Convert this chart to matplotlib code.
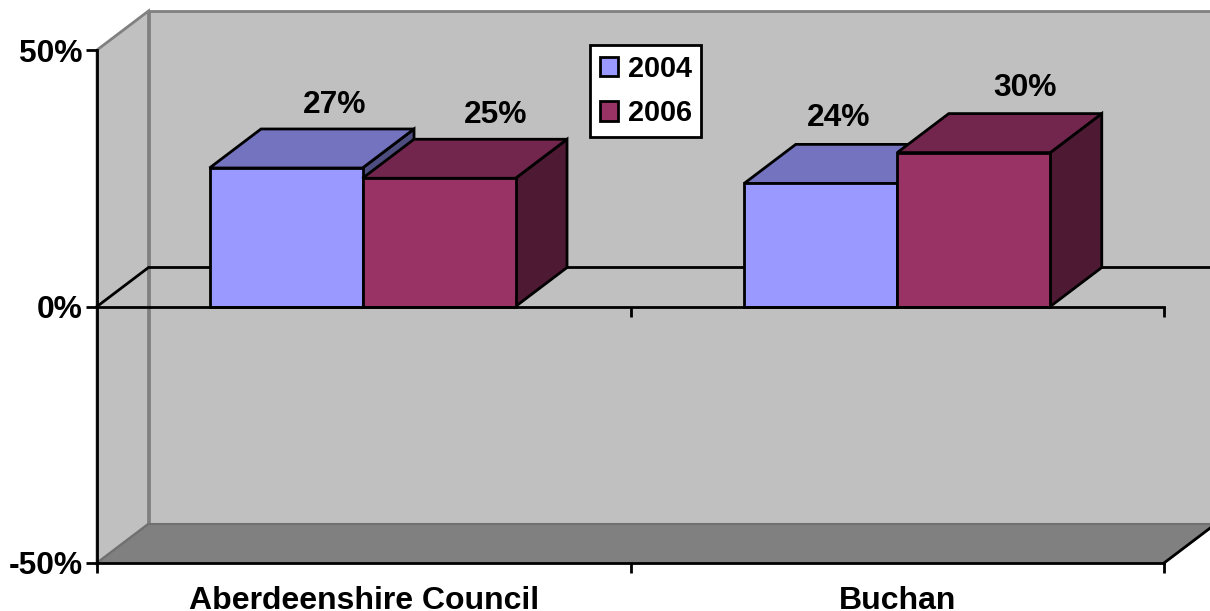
import matplotlib
matplotlib.use("Agg")
import matplotlib.pyplot as plt
from matplotlib.patches import Polygon, Patch

categories = ["Aberdeenshire Council", "Buchan"]
years = ["2004", "2006"]
values_2004 = [27, 24]
values_2006 = [25, 30]
y_ticks = [-50, 0, 50]

plt.rcParams["font.family"] = ["Liberation Sans", "DejaVu Sans"]
plt.rcParams["font.weight"] = "bold"

W, H = 1210, 611
fig = plt.figure(figsize=(W / 100, H / 100), dpi=100, facecolor="white")
ax = fig.add_axes([97 / W, 1 - 563 / H, (1164 - 97) / W, (563 - 50) / H])
ax.set_xlim(0, 2)
ax.set_ylim(-50, 50)
ax.patch.set_visible(False)

# oblique depth in data units
DX = 51.5 / 533.5
DY = 39 / 5.13
LW = 2.0
WALL = "#C0C0C0"
FLOOR = "#808080"
EDGE_GREY = "#808080"


def poly(pts, fc, ec="black", lw=LW, z=2):
    ax.add_patch(Polygon(pts, closed=True, fc=fc, ec=ec, lw=lw, zorder=z,
                         clip_on=False, joinstyle="miter"))


# walls and floor
poly([(0, -50), (DX, -50 + DY), (DX, 50 + DY), (0, 50)], WALL, EDGE_GREY, 2, 1)
poly([(DX, -50 + DY), (2 + DX, -50 + DY), (2 + DX, 50 + DY), (DX, 50 + DY)], WALL, EDGE_GREY, 2, 1)
poly([(0, -50), (2, -50), (2 + DX, -50 + DY), (DX, -50 + DY)], FLOOR, "#707070", 1.5, 1.1)

# black right edge of the floor, zero plane outline
ax.plot([2, 2 + DX], [-50, -50 + DY], color="black", lw=LW, clip_on=False, zorder=1.5)
ax.plot([0, DX, 2 + DX], [0, DY, DY], color="black", lw=LW, clip_on=False, zorder=1.5,
        solid_joinstyle="miter")
ax.plot([0, 2], [0, 0], color="black", lw=LW, clip_on=False, zorder=6)
tick_h = 10 / 5.13
ax.vlines([1, 2], -tick_h, 0, color="black", lw=LW, clip_on=False, zorder=6)

# bars
group_centers = [0.4977, 1.5]
bar_w = 153 / 533.5
series = [
    (values_2004, -bar_w / 2, "#9999FF", "#7373BF", "#4D4D80"),
    (values_2006, bar_w / 2, "#993366", "#73264D", "#4D1933"),
]
for vals, off, front, top, side in series:
    for c, v in zip(group_centers, vals):
        x0 = c + off - bar_w / 2
        x1 = x0 + bar_w
        poly([(x1, 0), (x1 + DX, DY), (x1 + DX, v + DY), (x1, v)], side, z=3)
        poly([(x0, v), (x1, v), (x1 + DX, v + DY), (x0 + DX, v + DY)], top, z=3)
        ax.bar(x0, v, width=bar_w, align="edge", color=front, edgecolor="black",
               linewidth=LW, zorder=3, clip_on=False)

# data labels
label_dx_px = [[48.5, 17.5], [56.5, 51.5]]
label_dy_px = [[63, 65], [63.5, 64.5]]
for (vals, off, *_), dxs, dys in zip(series, label_dx_px, label_dy_px):
    for c, v, d, e in zip(group_centers, vals, dxs, dys):
        ax.annotate(f"{v}%", xy=(c + off, v), xytext=(d * 0.72, e * 0.72),
                    textcoords="offset points", ha="center", va="center",
                    fontsize=22.9, fontweight="bold", color="black", zorder=7)

# axes
for s in ("top", "right"):
    ax.spines[s].set_visible(False)
for s in ("left", "bottom"):
    ax.spines[s].set_linewidth(LW)
    ax.spines[s].set_zorder(6)
ax.set_yticks(y_ticks)
ax.set_yticklabels([f"{t}%" for t in y_ticks], fontsize=22.9, fontweight="bold")
ax.tick_params(axis="y", length=8, width=LW, pad=2.5)
ax.set_xticks([0, 1, 2])
ax.set_xticklabels([])
ax.tick_params(axis="x", which="major", length=7, width=LW)
ax.set_xticks([0.5, 1.5], minor=True)
ax.set_xticklabels(categories, minor=True, fontsize=23.0, fontweight="bold")
ax.tick_params(axis="x", which="minor", length=0, pad=16.5)

# legend
handles = [Patch(facecolor=series[i][2], edgecolor="black", linewidth=LW) for i in range(2)]
leg = ax.legend(handles, years, loc="upper left", bbox_to_anchor=(590 / W, 1 - 45 / H),
                bbox_transform=fig.transFigure, borderaxespad=0, fontsize=20.8,
                frameon=True, fancybox=False, edgecolor="black", facecolor="white",
                framealpha=1, handlelength=0.64, handleheight=0.66, handletextpad=0.32,
                labelspacing=0.56, borderpad=0.34)
leg.get_frame().set_linewidth(LW)
leg.set_zorder(8)

fig.savefig("out.png", dpi=100)
